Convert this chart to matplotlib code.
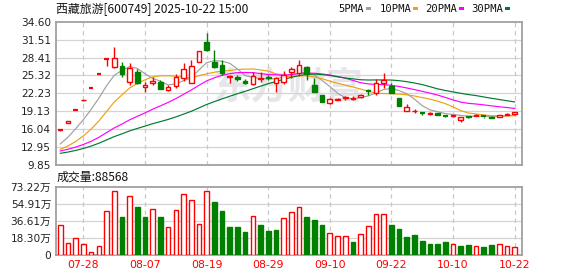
import matplotlib
matplotlib.use('Agg')
import matplotlib.pyplot as plt
import numpy as np
from matplotlib.patches import Rectangle

plt.rcParams['font.family'] = ['DejaVu Sans', 'Noto Sans CJK SC']

# ---------------- data ----------------
title = "西藏旅游[600749] 2025-10-22 15:00"
dates = ["07-23", "07-24", "07-25", "07-28", "07-29", "07-30", "07-31", "08-01",
         "08-04", "08-05", "08-06", "08-07", "08-08", "08-11", "08-12", "08-13",
         "08-14", "08-15", "08-18", "08-19", "08-20", "08-21", "08-22", "08-25",
         "08-26", "08-27", "08-28", "08-29", "09-01", "09-02", "09-03", "09-04",
         "09-05", "09-08", "09-09", "09-10", "09-11", "09-12", "09-15", "09-16",
         "09-17", "09-18", "09-19", "09-22", "09-23", "09-24", "09-25", "09-26",
         "09-29", "09-30", "10-09", "10-10", "10-13", "10-14", "10-15", "10-16",
         "10-17", "10-20", "10-21", "10-22"]
opens = [15.9, 17.1, 19.25, 21.0, 23.2, 25.6, 28.15, 26.73, 26.95, 24.13,
         25.86, 23.4, 24.07, 24.24, 22.8, 23.55, 24.83, 24.07, 27.7, 31.04,
         27.7, 27.1, 25.0, 25.0, 24.4, 23.8, 24.7, 25.0, 24.07, 24.25,
         25.97, 25.77, 26.8, 23.67, 21.94, 20.5, 21.1, 21.35, 21.3, 21.65,
         22.7, 22.2, 24.07, 23.5, 21.37, 19.23, 19.1, 18.95, 18.6, 18.8,
         18.35, 18.25, 17.55, 18.3, 18.3, 18.3, 18.2, 18.2, 18.5, 18.6]
highs = [16.1, 17.5, 19.3, 21.15, 23.27, 25.75, 28.27, 30.28, 27.7, 27.4,
         26.43, 24.25, 25.0, 24.53, 23.6, 25.57, 27.4, 27.95, 29.6, 32.6,
         29.7, 28.0, 25.37, 25.37, 24.7, 25.94, 25.94, 25.37, 25.1, 26.05,
         26.83, 28.0, 26.9, 24.8, 21.94, 21.5, 21.4, 21.8, 21.7, 22.1,
         22.95, 24.7, 25.7, 24.0, 21.4, 20.4, 19.6, 18.95, 18.95, 18.9,
         18.35, 18.45, 18.15, 18.35, 18.6, 18.3, 18.25, 18.55, 18.75, 19.05]
lows = [15.7, 17.05, 19.25, 20.9, 23.2, 25.55, 27.0, 26.6, 25.1, 23.7,
        23.85, 22.5, 23.67, 22.95, 22.7, 23.2, 24.4, 24.0, 27.6, 29.5,
        26.6, 25.4, 23.95, 24.35, 23.9, 23.65, 24.2, 24.5, 22.5, 23.85,
        24.82, 25.2, 24.5, 22.45, 20.7, 20.4, 21.0, 21.1, 21.0, 21.5,
        21.9, 21.9, 23.1, 22.3, 20.0, 19.2, 18.9, 18.5, 18.45, 18.45,
        18.1, 18.2, 17.33, 18.0, 18.25, 18.05, 17.9, 18.15, 18.4, 18.55]
closes = [16.0, 17.5, 19.3, 21.15, 23.27, 25.7, 28.2, 28.3, 25.5, 26.55,
          24.07, 23.6, 24.36, 22.98, 23.37, 25.0, 26.38, 26.95, 29.54, 29.71,
          26.83, 25.8, 25.2, 24.7, 23.95, 25.2, 24.9, 24.85, 24.8, 25.37,
          26.38, 27.1, 25.5, 22.5, 20.78, 21.2, 21.3, 21.55, 21.5, 21.95,
          22.6, 23.95, 24.5, 22.34, 20.1, 19.92, 19.25, 18.85, 18.75, 18.5,
          18.3, 18.4, 18.12, 18.08, 18.55, 18.2, 17.92, 18.5, 18.62, 19.0]
# closes of the 29 sessions before the window (needed for the moving averages)
prior_closes = [10.85, 10.92, 10.98, 11.05, 10.95, 11.02, 11.10, 11.15, 11.25, 11.33,
                11.55, 11.78, 12.10, 12.25, 12.05, 11.95, 12.18, 12.02, 11.98, 11.94,
                11.72, 11.55, 11.48, 11.60, 11.75, 11.70, 12.03, 13.23, 14.55]
volumes_wan = [32.4, 12.8, 18.1, 12.1, 3.2, 10.0, 47.3, 68.7, 40.9, 63.3,
               51.6, 40.9, 49.4, 40.9, 29.9, 48.4, 65.4, 59.0, 33.1, 68.7,
               57.3, 47.7, 30.6, 30.6, 25.3, 42.0, 32.4, 26.3, 27.4, 39.8,
               46.2, 51.2, 40.9, 37.7, 32.4, 23.5, 20.6, 20.6, 14.2, 22.8,
               30.9, 43.8, 43.8, 32.4, 28.1, 19.6, 21.7, 15.3, 12.1, 12.1,
               14.2, 12.1, 10.0, 11.0, 9.6, 8.9, 11.0, 12.1, 10.0, 8.8568]
last_volume = 88568
price_ticks = [9.85, 12.95, 16.04, 19.13, 22.23, 25.32, 28.41, 31.51, 34.60]
price_tick_labels = ["9.85", "12.95", "16.04", "19.13", "22.23", "25.32", "28.41", "31.51", "34.60"]
vol_ticks = [0, 18.30, 36.61, 54.91, 73.22]
vol_tick_labels = ["0", "18.30万", "36.61万", "54.91万", "73.22万"]
date_labels = ["07-28", "08-07", "08-19", "08-29", "09-10", "09-22", "10-10", "10-22"]
ma_periods = [5, 10, 20, 30]
ma_names = ["5PMA", "10PMA", "20PMA", "30PMA"]
ma_colors = ["#a0a0a0", "#f0a010", "#ff00ff", "#007a30"]

RED = "#ff0000"
GREEN = "#008000"

# ---------------- figure ----------------
W, H = 578, 276
fig = plt.figure(figsize=(W / 100, H / 100), dpi=100)
fig.patch.set_facecolor('white')

def ax_rect(left, top, right, bottom):
    return [left / W, 1 - bottom / H, (right - left) / W, (bottom - top) / H]

axp = fig.add_axes(ax_rect(56, 21.7, 522, 165))
axv = fig.add_axes(ax_rect(56, 186.7, 522, 255.3))

n = len(dates)
x = np.arange(n)
xlim = (-0.56, n - 1 + 0.96)
label_idx = [dates.index(d) for d in date_labels]

for ax in (axp, axv):
    ax.set_xlim(*xlim)
    for s in ax.spines.values():
        s.set_color('#a0a0a0')
        s.set_linewidth(1.3)
    ax.tick_params(axis='both', length=0, labelsize=7.6, colors='#222222', pad=3.5)
    ax.set_xticks([])
    for xi in label_idx:
        ax.axvline(xi, color='#c8c8c8', lw=0.9, ls=(0, (3.5, 3)), zorder=0.6)

# price axis
axp.set_ylim(price_ticks[0], price_ticks[-1])
axp.set_yticks(price_ticks)
axp.set_yticklabels(price_tick_labels)
for t in price_ticks[1:-1]:
    axp.axhline(t, color='#d4d4d4', lw=0.9, zorder=0.5)

# watermark
axp.text(0.5, 0.54, "东方财富", transform=axp.transAxes, ha='center', va='center',
         fontsize=27, fontweight='bold', color='#e6e6ea', zorder=0.4,
         family=['Noto Sans CJK SC'])

# moving averages
allc = np.array(prior_closes + closes)
npre = len(prior_closes)
for p, col in zip(ma_periods, ma_colors):
    ma = np.convolve(allc, np.ones(p) / p, mode='valid')
    ma = ma[len(ma) - n:]
    axp.plot(x, ma, color=col, lw=0.85, zorder=2, solid_joinstyle='miter')

# candles
bw = 0.6
for i in range(n):
    o, h, l, c = opens[i], highs[i], lows[i], closes[i]
    up = c >= o
    col = RED if up else GREEN
    top, bot = max(o, c), min(o, c)
    axp.plot([i, i], [top, h], color=col, lw=1.0, zorder=3, solid_capstyle='butt')
    axp.plot([i, i], [l, bot], color=col, lw=1.0, zorder=3, solid_capstyle='butt')
    if top - bot < 0.12:
        axp.plot([i - bw / 2, i + bw / 2], [(top + bot) / 2] * 2, color=col, lw=1.6,
                 zorder=4, solid_capstyle='butt')
    elif up:
        axp.add_patch(Rectangle((i - bw / 2, bot), bw, top - bot, facecolor='white',
                                edgecolor=col, lw=1.0, zorder=4))
    else:
        axp.add_patch(Rectangle((i - bw / 2, bot), bw, top - bot, facecolor=col,
                                edgecolor=col, lw=1.0, zorder=4))

# volume axis
axv.set_ylim(vol_ticks[0], vol_ticks[-1])
axv.set_yticks(vol_ticks)
axv.set_yticklabels(vol_tick_labels)
for t in vol_ticks[1:-1]:
    axv.axhline(t, color='#d4d4d4', lw=0.9, zorder=0.5)
prev = [prior_closes[-1]] + closes[:-1]
for i in range(n):
    up = closes[i] >= prev[i]
    if up:
        axv.add_patch(Rectangle((i - bw / 2, 0), bw, volumes_wan[i], facecolor='white',
                                edgecolor=RED, lw=1.0, zorder=3))
    else:
        axv.add_patch(Rectangle((i - bw / 2, 0), bw, volumes_wan[i], facecolor=GREEN,
                                edgecolor=GREEN, lw=1.0, zorder=3))

# date labels
for xi, d in zip(label_idx, date_labels):
    axv.text(xi, -0.07, d, transform=axv.get_xaxis_transform(), ha='center', va='top',
             fontsize=7.8, color=RED)

# title & legend
fig.text(56 / W, 1 - 8.5 / H, title, ha='left', va='center', fontsize=8.6,
         color='#111111', family=['Noto Sans CJK SC'])
fig.text(57 / W, 1 - 177.5 / H, "成交量:%d" % last_volume, ha='left', va='center',
         fontsize=8.6, color='#111111', family=['Noto Sans CJK SC'])

leg_x = [338, 379.5, 425, 471]
for lx, name, col in zip(leg_x, ma_names, ma_colors):
    t = fig.text(lx / W, 1 - 8.5 / H, name, ha='left', va='center', fontsize=7.6,
                 color='#111111', family=['DejaVu Sans Mono'])
fig.canvas.draw()
r = fig.canvas.get_renderer()
for txt, col in zip(fig.texts[-4:], ma_colors):
    bb = txt.get_window_extent(r)
    fig.patches.append(Rectangle(((bb.x1 + 2) / W, (H - 10) / H), 5 / W, 3 / H,
                                 transform=fig.transFigure, facecolor=col,
                                 edgecolor='none', figure=fig))

fig.savefig('out.png', dpi=100, facecolor='white')
